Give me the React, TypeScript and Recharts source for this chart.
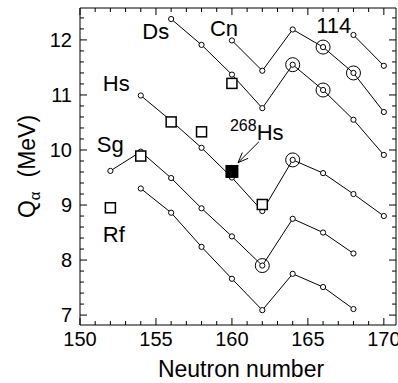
import React from "react";
import {
  ComposedChart,
  Line,
  Scatter,
  XAxis,
  YAxis,
  Label,
  ReferenceDot,
  ReferenceLine,
} from "recharts";

const FONT = '"Liberation Sans", Arial, sans-serif';

// calculated Q-alpha (MeV) against neutron number, one line per element
const rfN = [154, 156, 158, 160, 162, 164, 166, 168];
const rfQ = [9.3, 8.86, 8.24, 7.66, 7.09, 7.75, 7.51, 7.11];
const sgN = [152, 154, 156, 158, 160, 162, 164, 166, 168];
const sgQ = [9.62, 9.97, 9.49, 8.94, 8.43, 7.9, 8.75, 8.5, 8.12];
const hsN = [154, 156, 158, 160, 162, 164, 166, 168, 170];
const hsQ = [10.99, 10.53, 10.04, 9.5, 8.89, 9.82, 9.58, 9.2, 8.8];
const dsN = [156, 158, 160, 162, 164, 166, 168, 170];
const dsQ = [12.38, 11.91, 11.37, 10.76, 11.55, 11.09, 10.55, 9.91];
const cnN = [160, 162, 164, 166, 168, 170];
const cnQ = [11.99, 11.44, 12.19, 11.87, 11.4, 10.69];
const z114N = [168, 170];
const z114Q = [12.09, 11.53];

// experimental values (open squares) and 268Hs (filled square)
const expN = [152, 154, 156, 158, 160, 162];
const expQ = [8.95, 9.89, 10.51, 10.33, 11.21, 9.01];
const hs268N = [160];
const hs268Q = [9.61];

// circled points
const ringN = [162, 164, 164, 166, 166, 168];
const ringQ = [7.9, 9.82, 11.55, 11.09, 11.87, 11.4];

// element labels
const labelText = ["Rf", "Sg", "Hs", "Ds", "Cn", "114"];
const labelN = [151.5, 151.1, 151.5, 154.1, 158.55, 165.55];
const labelQ = [8.33, 9.96, 11.07, 12.01, 12.07, 12.13];

const xMajor = [150, 155, 160, 165, 170];
const yMajor = [7, 8, 9, 10, 11, 12];
const xTicks: number[] = [];
for (let n = 150; n <= 170; n++) xTicks.push(n);
const yTicks: number[] = [];
for (let i = 35; i <= 62; i++) yTicks.push(i / 5);

const toPoints = (ns: number[], qs: number[]) =>
  ns.map((n, i) => ({ n, q: qs[i] }));

const lines = [
  toPoints(rfN, rfQ),
  toPoints(sgN, sgQ),
  toPoints(hsN, hsQ),
  toPoints(dsN, dsQ),
  toPoints(cnN, cnQ),
  toPoints(z114N, z114Q),
];
const expData = toPoints(expN, expQ);
const hs268Data = toPoints(hs268N, hs268Q);
const ringData = toPoints(ringN, ringQ);

const isMajor = (v: number, major: number[]) =>
  major.some((m) => Math.abs(m - v) < 1e-6);

const BottomTick = (props: any) => {
  const { x, y, payload } = props;
  const major = isMajor(payload.value, xMajor);
  return (
    <g>
      <line x1={x} x2={x} y1={y} y2={y - (major ? 7 : 4)} stroke="#000" />
      {major && (
        <text x={x} y={y + 21} textAnchor="middle" fontSize={20} fontFamily={FONT} fill="#000">
          {payload.value}
        </text>
      )}
    </g>
  );
};

const TopTick = (props: any) => {
  const { x, y, payload } = props;
  const major = isMajor(payload.value, xMajor);
  return <line x1={x} x2={x} y1={y} y2={y + (major ? 7 : 4)} stroke="#000" />;
};

const LeftTick = (props: any) => {
  const { x, y, payload } = props;
  const major = isMajor(payload.value, yMajor);
  return (
    <g>
      <line x1={x} x2={x + (major ? 7 : 4)} y1={y} y2={y} stroke="#000" />
      {major && (
        <text x={x - 8} y={y} dy="0.35em" textAnchor="end" fontSize={20} fontFamily={FONT} fill="#000">
          {payload.value}
        </text>
      )}
    </g>
  );
};

const RightTick = (props: any) => {
  const { x, y, payload } = props;
  const major = isMajor(payload.value, yMajor);
  return <line x1={x} x2={x - (major ? 7 : 4)} y1={y} y2={y} stroke="#000" />;
};

const YTitle = (props: any) => {
  const { x, y, height } = props.viewBox;
  const cx = x + 35;
  const cy = y + height / 2;
  return (
    <text
      x={cx}
      y={cy}
      textAnchor="middle"
      transform={`rotate(-90, ${cx}, ${cy})`}
      fontSize={23}
      fontFamily={FONT}
      fill="#000"
    >
      <tspan>Q</tspan>
      <tspan fontSize={15} dy={5}>α</tspan>
      <tspan dx={14} dy={-5}>(MeV)</tspan>
    </text>
  );
};

const XTitle = (props: any) => {
  const { x, y, width } = props.viewBox;
  return (
    <text x={x + width / 2 + 3} y={y + 52} textAnchor="middle" fontSize={23} fontFamily={FONT} fill="#000">
      Neutron number
    </text>
  );
};

const OpenSquare = (props: any) => (
  <rect x={props.cx - 5} y={props.cy - 5} width={10} height={10} fill="#fff" stroke="#000" strokeWidth={1.5} />
);
const FilledSquare = (props: any) => (
  <rect x={props.cx - 6.5} y={props.cy - 6.5} width={13} height={13} fill="#000" />
);
const Ring = (props: any) => (
  <circle cx={props.cx} cy={props.cy} r={7} fill="none" stroke="#000" strokeWidth={1} />
);

const Arrow = (props: any) => {
  const { x1, y1, x2, y2 } = props;
  const a = Math.atan2(y2 - y1, x2 - x1);
  const len = 11;
  const spread = 0.38;
  return (
    <g stroke="#000" strokeWidth={1}>
      <line x1={x1} y1={y1} x2={x2} y2={y2} />
      <line x1={x2} y1={y2} x2={x2 - len * Math.cos(a - spread)} y2={y2 - len * Math.sin(a - spread)} />
      <line x1={x2} y1={y2} x2={x2 - len * Math.cos(a + spread)} y2={y2 - len * Math.sin(a + spread)} />
    </g>
  );
};

export default function App() {
  return (
    <div style={{ position: "absolute", left: 0, top: 0, background: "#fff" }}>
      <ComposedChart
        width={398}
        height={383}
        margin={{ top: 7, right: 1, bottom: 0, left: 0 }}
      >
        <XAxis
          dataKey="n"
          type="number"
          domain={[150, 170.8]}
          ticks={xTicks}
          interval={0}
          allowDataOverflow
          height={58}
          tickSize={0}
          tickMargin={0}
          tickLine={false}
          tick={<BottomTick />}
          axisLine={{ stroke: "#000" }}
        >
          <Label content={<XTitle />} />
        </XAxis>
        <XAxis
          xAxisId="t"
          orientation="top"
          dataKey="n"
          type="number"
          domain={[150, 170.8]}
          ticks={xTicks}
          interval={0}
          allowDataOverflow
          height={1}
          tickSize={0}
          tickMargin={0}
          tickLine={false}
          tick={<TopTick />}
          axisLine={{ stroke: "#000" }}
        />
        <YAxis
          type="number"
          domain={[6.82, 12.58]}
          ticks={yTicks}
          interval={0}
          allowDataOverflow
          width={80}
          tickSize={0}
          tickMargin={0}
          tickLine={false}
          tick={<LeftTick />}
          axisLine={{ stroke: "#000" }}
        >
          <Label content={<YTitle />} />
        </YAxis>
        <YAxis
          yAxisId="r"
          orientation="right"
          type="number"
          domain={[6.82, 12.58]}
          ticks={yTicks}
          interval={0}
          allowDataOverflow
          width={1}
          tickSize={0}
          tickMargin={0}
          tickLine={false}
          tick={<RightTick />}
          axisLine={{ stroke: "#000" }}
        />
        {lines.map((d, i) => (
          <Line
            key={i}
            data={d}
            dataKey="q"
            type="linear"
            stroke="#000"
            strokeWidth={1}
            dot={{ r: 2.6, fill: "#fff", stroke: "#000", strokeWidth: 1 }}
            activeDot={false}
            isAnimationActive={false}
          />
        ))}
        <Scatter data={ringData} dataKey="q" shape={<Ring />} isAnimationActive={false} />
        <Scatter data={expData} dataKey="q" shape={<OpenSquare />} isAnimationActive={false} />
        <Scatter data={hs268Data} dataKey="q" shape={<FilledSquare />} isAnimationActive={false} />
        <ReferenceLine
          segment={[
            { x: 161.78, y: 10.15 },
            { x: 160.4, y: 9.77 },
          ]}
          shape={<Arrow />}
        />
        {labelText.map((t, i) => (
          <ReferenceDot
            key={t}
            x={labelN[i]}
            y={labelQ[i]}
            r={0}
            shape={(p: any) => (
              <text x={p.cx} y={p.cy} fontSize={22} fontFamily={FONT} fill="#000">
                {t}
              </text>
            )}
          />
        ))}
        <ReferenceDot
          x={159.87}
          y={10.18}
          r={0}
          shape={(p: any) => (
            <text x={p.cx} y={p.cy} fontFamily={FONT} fill="#000">
              <tspan fontSize={16} dy={-9}>268</tspan>
              <tspan fontSize={22} dy={9}>Hs</tspan>
            </text>
          )}
        />
      </ComposedChart>
    </div>
  );
}
